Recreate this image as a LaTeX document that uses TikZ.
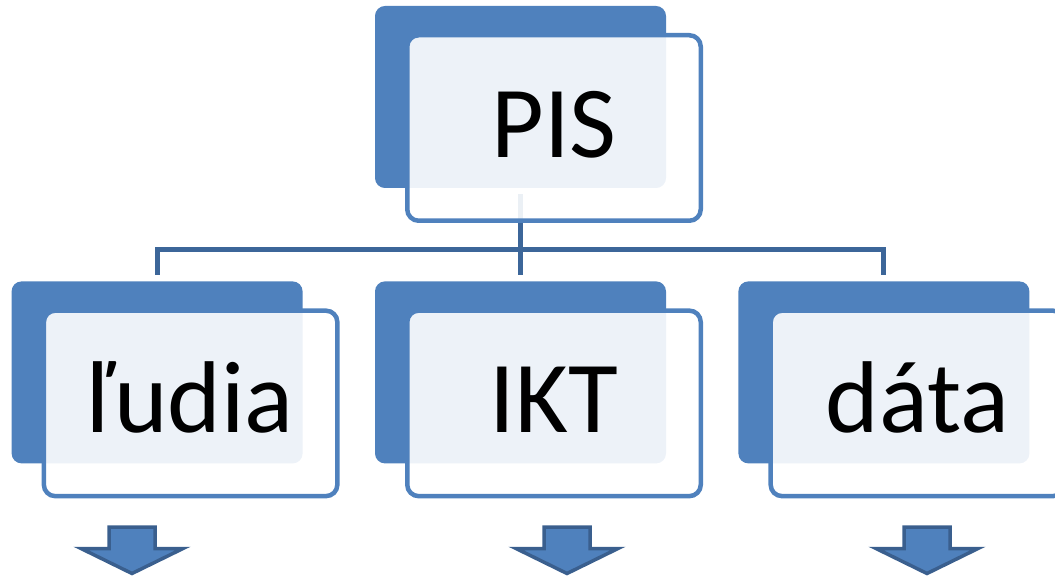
\documentclass[tikz,border=0pt]{standalone}
\usepackage{fontspec}
\setmainfont{Carlito}
\usetikzlibrary{positioning}
\definecolor{boxBlue}{RGB}{79, 129, 189}
\definecolor{lineBlue}{RGB}{60, 102, 153}
\definecolor{arrowEdge}{RGB}{58, 95, 142}
\tikzset{
    back/.style={rectangle, rounded corners=3.5mm, fill=boxBlue, minimum width=291pt, minimum height=182pt},
    front/.style={rectangle, rounded corners=4mm, draw=boxBlue, line width=4.5pt, fill=white, fill opacity=0.9, text opacity=1, minimum width=293.5pt, minimum height=185.5pt, text height=59pt, text depth=0pt, font=\fontsize{102}{110}\selectfont},
    conn/.style={draw=lineBlue, line width=5pt},
    downarrow/.style={fill=boxBlue, draw=arrowEdge, line width=3.5pt}
}

\begin{document}
\begin{tikzpicture}[x=1pt, y=-1pt]

    \useasboundingbox (0,0) rectangle (1055,577);

    % Back boxes
    \node (pisback) [back] at (520.5,97) {};
    \node (iktback) [back, below=93pt of pisback] {};
    \node (ludiaback) [back, left=72pt of iktback] {};
    \node (databack) [back, right=72pt of iktback] {};

    % Connecting
    \coordinate (bus) at (520.5,250);
    \draw [conn, shorten <=6pt] (pisback.south) -- (bus);
    \draw [conn, shorten >=6pt] (bus) -| (ludiaback.north);
    \draw [conn, shorten >=6pt] (bus) -- (iktback.north);
    \draw [conn, shorten >=6pt] (bus) -| (databack.north);

    % Front boxes
    \node (pis) [front] at ([shift={(33.5,31)}]pisback) {PIS};
    \node (ludia) [front] at ([shift={(33.5,31)}]ludiaback) {ľudia};
    \node (ikt) [front] at ([shift={(33.5,31)}]iktback) {IKT};
    \node (data) [front] at ([shift={(33.5,31)}]databack) {dáta};

    % Arrows
    \foreach \cx in {132,567,927}
        \draw [downarrow] (\cx-23,527) -- (\cx+23,527) -- (\cx+23,548.5) -- (\cx+51,548.5)
            -- (\cx,573.5) -- (\cx-51,548.5) -- (\cx-23,548.5) -- cycle;

\end{tikzpicture}
\end{document}
